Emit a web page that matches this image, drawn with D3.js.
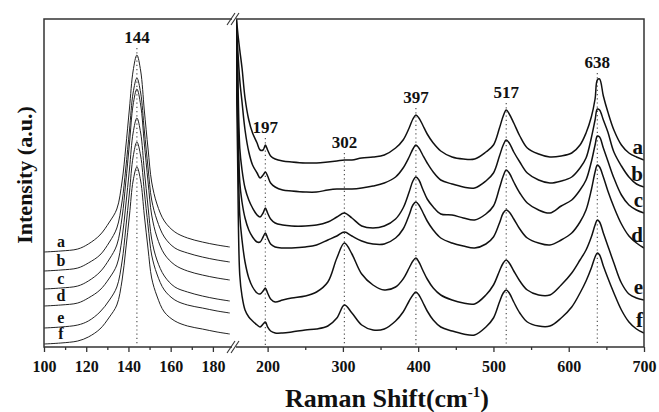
<!DOCTYPE html>
<html>
<head>
<meta charset="utf-8">
<script src="https://cdn.jsdelivr.net/npm/d3@7/dist/d3.min.js"></script>
<style>
  body { margin: 0; background: #fff; }
  svg text { font-family: "Liberation Serif", "Times New Roman", serif; font-weight: bold; fill: #111; }
</style>
</head>
<body>
<div id="chart"></div>
<script>
// sample names, top to bottom
var seriesNames = ['a', 'b', 'c', 'd', 'e', 'f'];

// low-shift window (100-190 cm-1), Eg mode at 144
var lowShift = [100, 108, 116, 121, 126.5, 131, 134.5, 137, 138.7, 140.5, 142.2, 144, 145.8, 147.5, 149.3, 151, 153.5, 157, 162, 168, 175, 182, 188];
var lowA = [95, 96, 98, 103, 112, 125, 138, 166, 199, 239, 276, 292, 276, 237, 198, 165, 143, 126, 115, 109, 105, 102, 100];
var lowB = [76, 77, 79, 84, 92, 105, 119, 146, 178, 217, 254, 269, 254, 217, 179, 147, 127, 110, 99, 94, 90, 87, 85];
var lowC = [58, 59, 61, 66, 75, 88, 102, 130, 164, 204, 242, 258, 242, 204, 165, 132, 110, 93, 82, 76, 72, 69, 67];
var lowD = [41, 42, 44, 49, 57, 69, 82, 109, 141, 178, 214, 229, 214, 177, 140, 108, 87, 71, 60, 55, 51, 48, 46];
var lowE = [19, 20, 22, 26, 35, 47, 60, 86, 118, 155, 190, 205, 191, 156, 121, 92, 73, 57, 47, 42, 39, 36, 34];
var lowF = [3, 4, 6, 10, 18, 30, 42, 67, 97, 132, 166, 180, 166, 132, 98, 69, 51, 35, 26, 21, 18, 15, 13];

// high-shift window (158-700 cm-1)
var highShift = [158, 160, 163, 166, 170, 175, 180, 186, 190, 194, 197, 200, 204, 210, 220, 232, 250, 265, 280, 292,
  302, 312, 325, 340, 355, 370, 380, 388, 393, 397, 401, 406, 412, 420, 430, 445, 460, 475, 490, 500,
  508, 513, 517, 521, 527, 535, 545, 560, 575, 590, 604, 615, 623, 630, 635, 638, 641, 646, 652, 660,
  670, 680, 690, 700];
var highA = [337, 317, 297, 279, 249, 227, 214, 204, 197, 197, 202, 197, 191, 188, 186, 185, 184, 184, 185, 186,
  187, 187, 189, 190, 192, 199, 207, 219, 228, 232, 229, 222, 213, 204, 196, 190, 188, 188, 195, 202,
  219, 231, 237, 233, 224, 211, 199, 193, 190, 191, 194, 202, 214, 230, 248, 267, 268, 251, 235, 217,
  202, 194, 190, 187];
var highB = [332, 302, 267, 245, 217, 195, 182, 174, 169, 172, 175, 171, 164, 160, 157, 156, 155, 155, 157, 158,
  158, 158, 159, 161, 164, 170, 179, 190, 198, 202, 199, 192, 184, 175, 167, 163, 160, 159, 166, 174,
  191, 202, 207, 204, 195, 185, 174, 167, 164, 166, 170, 179, 189, 209, 227, 238, 237, 227, 215, 195,
  181, 170, 163, 160];
var highC = [327, 287, 199, 177, 159, 147, 139, 132, 130, 134, 139, 134, 128, 124, 122, 121, 121, 122, 125, 130,
  134, 129, 121, 119, 121, 128, 139, 155, 166, 170, 167, 158, 148, 140, 133, 132, 129, 127, 133, 141,
  159, 171, 177, 174, 165, 154, 144, 137, 134, 141, 147, 157, 167, 185, 202, 211, 210, 199, 186, 169,
  152, 142, 137, 134];
var highD = [322, 267, 165, 145, 129, 117, 110, 105, 105, 110, 114, 109, 103, 100, 99, 99, 100, 102, 107, 111,
  115, 111, 106, 103, 103, 109, 118, 132, 142, 145, 142, 135, 126, 117, 109, 104, 101, 99, 103, 110,
  124, 134, 137, 135, 128, 118, 109, 104, 102, 107, 114, 125, 137, 157, 175, 182, 180, 170, 156, 140,
  123, 111, 104, 99];
var highE = [317, 237, 132, 107, 85, 69, 60, 54, 53, 56, 59, 54, 48, 45, 47, 49, 51, 55, 65, 89,
  104, 93, 73, 62, 57, 60, 68, 79, 86, 89, 85, 77, 68, 59, 52, 47, 44, 43, 52, 62,
  76, 84, 87, 84, 76, 66, 57, 52, 52, 62, 74, 87, 97, 110, 122, 127, 125, 114, 101, 84,
  64, 53, 49, 47];
var highF = [307, 197, 72, 51, 37, 30, 26, 22, 20, 23, 25, 20, 16, 14, 14, 15, 17, 18, 21, 29,
  42, 34, 22, 17, 18, 26, 35, 46, 52, 55, 52, 45, 36, 27, 20, 16, 13, 12, 20, 29,
  45, 54, 57, 54, 45, 34, 25, 21, 21, 29, 40, 54, 66, 79, 90, 94, 92, 81, 69, 54,
  37, 25, 18, 14];

// marked peaks
var lowPeaks = [144];
var highPeaks = [197, 302, 397, 517, 638];

// tick labels
var lowTicks = [100, 120, 140, 160, 180];
var highTicks = [200, 300, 400, 500, 600, 700];

var lowSeries = [lowA, lowB, lowC, lowD, lowE, lowF];
var highSeries = [highA, highB, highC, highD, highE, highF];

var W = 659, H = 412;
var plotTop = 19, plotBottom = 347, plotLeft = 44, plotRight = 644;
var breakL = 232, breakR = 236;

var svg = d3.select('#chart').append('svg')
    .attr('width', W).attr('height', H);

var xL = d3.scaleLinear().domain([100, 190]).range([plotLeft, breakL + 2]);
var xR = d3.scaleLinear().domain([158, 700]).range([breakR, plotRight]);
var y = d3.scaleLinear().domain([0, 328]).range([plotBottom, plotTop]);

var defs = svg.append('defs');
defs.append('clipPath').attr('id', 'clipL').append('rect')
    .attr('x', plotLeft).attr('y', plotTop).attr('width', breakL - plotLeft).attr('height', plotBottom - plotTop);
defs.append('clipPath').attr('id', 'clipR').append('rect')
    .attr('x', breakR).attr('y', plotTop).attr('width', plotRight - breakR).attr('height', plotBottom - plotTop);

// dotted peak markers and labels
function peakMarks(peaks, shifts, series, x) {
  peaks.forEach(function(p) {
    // label sits a little above the top curve at that shift
    var i = d3.minIndex(shifts, function(s) { return Math.abs(s - p); });
    var yTop = y(series[0][i]) - 12;
    svg.append('line')
      .attr('x1', x(p)).attr('x2', x(p))
      .attr('y1', yTop + 5).attr('y2', plotBottom - 2)
      .attr('stroke', '#555').attr('stroke-width', 1.2)
      .attr('stroke-dasharray', '1.2,3');
    svg.append('text')
      .attr('x', x(p)).attr('y', yTop)
      .attr('text-anchor', 'middle')
      .style('font-size', '17px')
      .text(p);
  });
}
peakMarks(lowPeaks, lowShift, lowSeries, xL);
peakMarks(highPeaks, highShift, highSeries, xR);

// spectra
var lineL = d3.line()
    .x(function(d) { return xL(d[0]); })
    .y(function(d) { return y(d[1]); })
    .curve(d3.curveCatmullRom.alpha(0.5));
var lineR = d3.line()
    .x(function(d) { return xR(d[0]); })
    .y(function(d) { return y(d[1]); })
    .curve(d3.curveCatmullRom.alpha(0.5));

svg.append('g').attr('clip-path', 'url(#clipL)')
  .selectAll('path')
  .data(lowSeries)
  .enter()
  .append('path')
  .attr('d', function(s) { return lineL(d3.zip(lowShift, s)); })
  .attr('fill', 'none')
  .attr('stroke', '#222')
  .attr('stroke-width', 1);

svg.append('g').attr('clip-path', 'url(#clipR)')
  .selectAll('path')
  .data(highSeries)
  .enter()
  .append('path')
  .attr('d', function(s) { return lineR(d3.zip(highShift, s)); })
  .attr('fill', 'none')
  .attr('stroke', '#111')
  .attr('stroke-width', 1.5);

// series letters: left, just above the flat start of each curve
svg.append('g').selectAll('text')
  .data(lowSeries)
  .enter()
  .append('text')
  .attr('x', xL(108))
  .attr('y', function(s) { return y(s[1]) - 4; })
  .attr('text-anchor', 'middle')
  .style('font-size', '16px')
  .text(function(d, i) { return seriesNames[i]; });

// series letters: right edge
svg.append('g').selectAll('text')
  .data(highSeries)
  .enter()
  .append('text')
  .attr('x', plotRight - 1)
  .attr('y', function(s) { return y(s[s.length - 1]) - 6; })
  .attr('text-anchor', 'end')
  .style('font-size', '21px')
  .text(function(d, i) { return seriesNames[i]; });

// axes
var axL = d3.axisBottom(xL).tickValues(lowTicks).tickSize(5).tickPadding(9);
var axLminor = d3.axisBottom(xL).tickValues(d3.range(110, 190, 20)).tickSize(3).tickFormat('');
var axR = d3.axisBottom(xR).tickValues(highTicks).tickSize(5).tickPadding(9);
var axRminor = d3.axisBottom(xR).tickValues(d3.range(250, 700, 100)).tickSize(3).tickFormat('');

[axL, axLminor, axR, axRminor].forEach(function(ax) {
  var g = svg.append('g').attr('transform', 'translate(0,' + plotBottom + ')').call(ax);
  g.select('.domain').remove();
  g.selectAll('line').attr('stroke', '#333').attr('stroke-width', 1.3);
  g.selectAll('text')
    .style('font-size', '16px')
    .style('font-family', '"Liberation Serif", "Times New Roman", serif')
    .style('font-weight', 'bold')
    .attr('fill', '#111');
});

// frame with axis break
var frame = svg.append('g').attr('stroke', '#333').attr('stroke-width', 1.5).attr('fill', 'none');
frame.append('path').attr('d',
  'M' + breakL + ',' + plotTop + 'H' + plotLeft + 'V' + plotBottom + 'H' + breakL);
frame.append('path').attr('d',
  'M' + breakR + ',' + plotTop + 'H' + plotRight + 'V' + plotBottom + 'H' + breakR);
[plotTop, plotBottom].forEach(function(yy) {
  [breakL - 1, breakR - 1].forEach(function(xx) {
    frame.append('line')
      .attr('x1', xx - 4).attr('y1', yy + 6)
      .attr('x2', xx + 4).attr('y2', yy - 6)
      .attr('stroke-width', 1.1);
  });
});

// axis titles
var xt = svg.append('text')
  .attr('x', 387).attr('y', 407)
  .attr('text-anchor', 'middle')
  .style('font-size', '26px');
xt.append('tspan').text('Raman Shift(cm');
xt.append('tspan').attr('dy', -10).style('font-size', '15px').text('-1');
xt.append('tspan').attr('dy', 10).text(')');

svg.append('text')
  .attr('transform', 'translate(32,175) rotate(-90)')
  .attr('text-anchor', 'middle')
  .style('font-size', '22px')
  .text('Intensity (a.u.)');
</script>
</body>
</html>
